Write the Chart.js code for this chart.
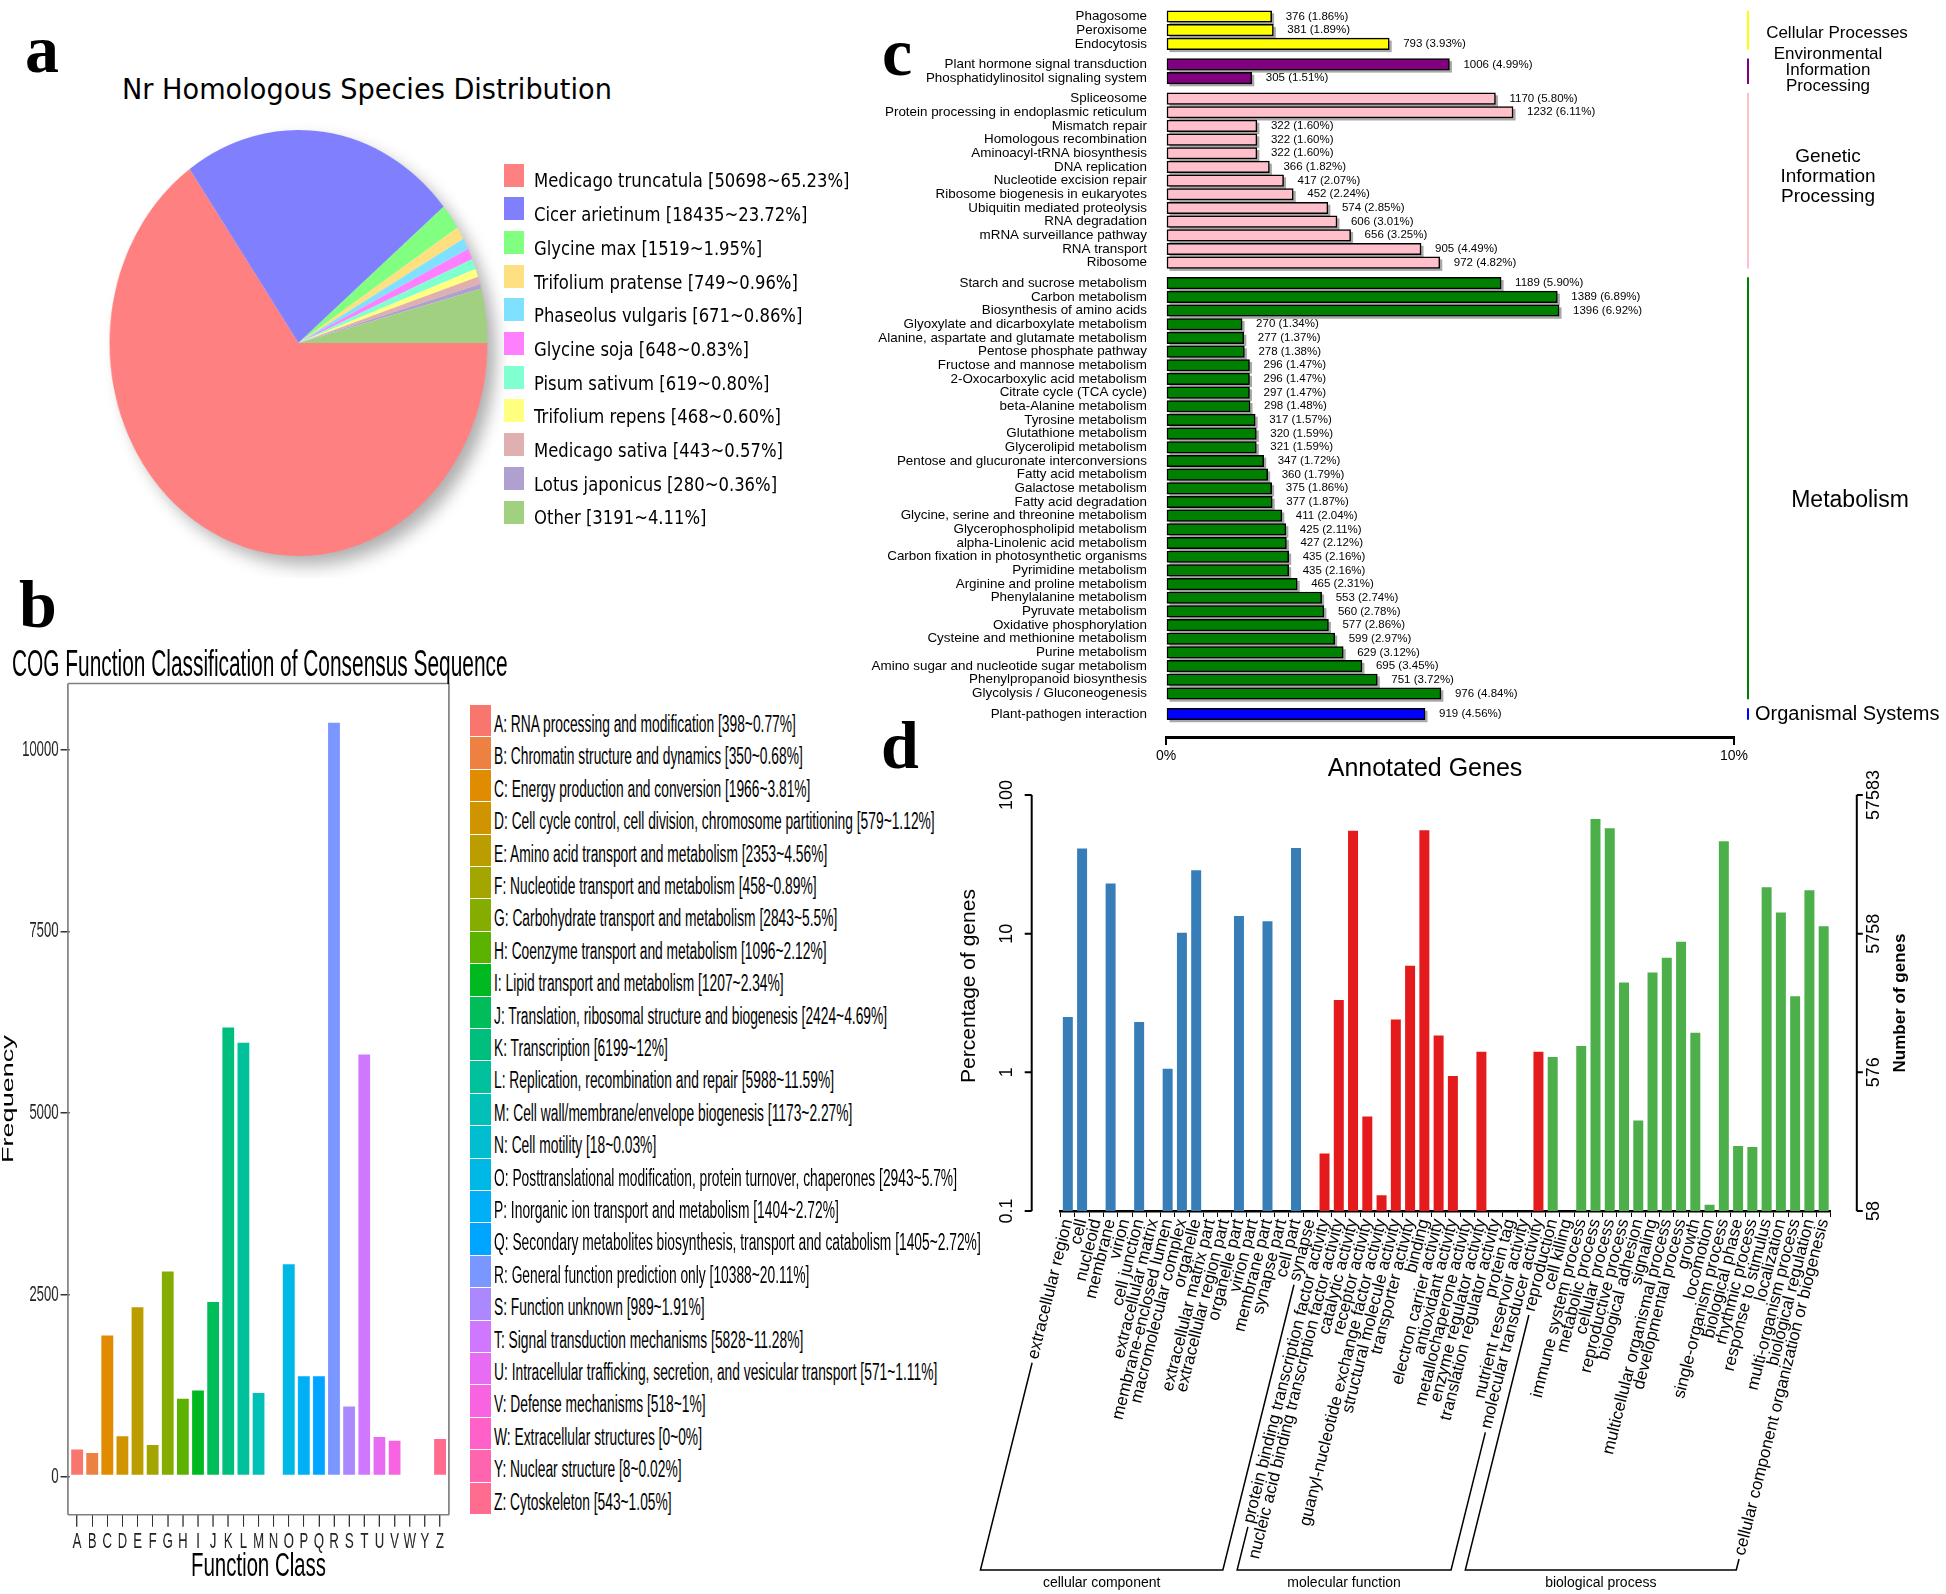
<!DOCTYPE html>
<html lang="en">
<head>
<meta charset="utf-8">
<title>Nr, COG, KEGG and GO annotation</title>
<script src="https://cdn.jsdelivr.net/npm/chart.js@4.4.1/dist/chart.umd.min.js"></script>
<style>
  html, body { margin: 0; padding: 0; background: #fff; }
  #page { position: relative; width: 1946px; height: 1594px; overflow: hidden; background: #fff; }
  #page canvas { position: absolute; }
  .t { position: absolute; white-space: nowrap; line-height: 0; color: #000; }
  .key { position: absolute; }
</style>
</head>
<body>
<div id="page">
  <canvas id="pieA"></canvas>
  <canvas id="cogB"></canvas>
  <canvas id="keggC"></canvas>
  <canvas id="goD"></canvas>
</div>
<script>
// ---------- panel a : Nr species
const speciesNames = ['Medicago truncatula', 'Cicer arietinum', 'Glycine max', 'Trifolium pratense', 'Phaseolus vulgaris',
  'Glycine soja', 'Pisum sativum', 'Trifolium repens', 'Medicago sativa', 'Lotus japonicus', 'Other'];
const speciesCounts = [50698, 18435, 1519, 749, 671, 648, 619, 468, 443, 280, 3191];
const speciesPct = ['65.23%', '23.72%', '1.95%', '0.96%', '0.86%', '0.83%', '0.80%', '0.60%', '0.57%', '0.36%', '4.11%'];
const speciesColors = ['#ff8080', '#8080ff', '#80ff80', '#ffe080', '#80e0ff', '#ff80ff', '#80ffd0', '#ffff80', '#e0b0b0', '#b0a0d0', '#a0d080'];

// ---------- panel b : COG
const cogLetters = ['A', 'B', 'C', 'D', 'E', 'F', 'G', 'H', 'I', 'J', 'K', 'L', 'M', 'N', 'O', 'P', 'Q', 'R', 'S', 'T', 'U', 'V', 'W', 'Y', 'Z'];
const cogNames = ['RNA processing and modification', 'Chromatin structure and dynamics', 'Energy production and conversion',
  'Cell cycle control, cell division, chromosome partitioning', 'Amino acid transport and metabolism',
  'Nucleotide transport and metabolism', 'Carbohydrate transport and metabolism', 'Coenzyme transport and metabolism',
  'Lipid transport and metabolism', 'Translation, ribosomal structure and biogenesis', 'Transcription',
  'Replication, recombination and repair', 'Cell wall/membrane/envelope biogenesis', 'Cell motility',
  'Posttranslational modification, protein turnover, chaperones', 'Inorganic ion transport and metabolism',
  'Secondary metabolites biosynthesis, transport and catabolism', 'General function prediction only', 'Function unknown',
  'Signal transduction mechanisms', 'Intracellular trafficking, secretion, and vesicular transport', 'Defense mechanisms',
  'Extracellular structures', 'Nuclear structure', 'Cytoskeleton'];
const cogCounts = [398, 350, 1966, 579, 2353, 458, 2843, 1096, 1207, 2424, 6199, 5988, 1173, 18, 2943, 1404, 1405, 10388, 989, 5828, 571, 518, 0, 8, 543];
const cogPct = ['0.77%', '0.68%', '3.81%', '1.12%', '4.56%', '0.89%', '5.5%', '2.12%', '2.34%', '4.69%', '12%', '11.59%', '2.27%',
  '0.03%', '5.7%', '2.72%', '2.72%', '20.11%', '1.91%', '11.28%', '1.11%', '1%', '0%', '0.02%', '1.05%'];
const cogTicks = [0, 2500, 5000, 7500, 10000];

// ---------- panel c : KEGG
const keggGroups = ['Cellular Processes', 'Environmental Information Processing', 'Genetic Information Processing', 'Metabolism', 'Organismal Systems'];
const keggGroupLines = [['Cellular Processes'], ['Environmental', 'Information', 'Processing'], ['Genetic', 'Information', 'Processing'], ['Metabolism'], ['Organismal Systems']];
const keggGroupSizes = [3, 2, 13, 31, 1];
const keggGroupColors = ['#ffff00', '#800080', '#ffc0cb', '#008000', '#0000ff'];
const keggPathways = ['Phagosome', 'Peroxisome', 'Endocytosis', 'Plant hormone signal transduction', 'Phosphatidylinositol signaling system',
  'Spliceosome', 'Protein processing in endoplasmic reticulum', 'Mismatch repair', 'Homologous recombination', 'Aminoacyl-tRNA biosynthesis',
  'DNA replication', 'Nucleotide excision repair', 'Ribosome biogenesis in eukaryotes', 'Ubiquitin mediated proteolysis', 'RNA degradation',
  'mRNA surveillance pathway', 'RNA transport', 'Ribosome', 'Starch and sucrose metabolism', 'Carbon metabolism', 'Biosynthesis of amino acids',
  'Glyoxylate and dicarboxylate metabolism', 'Alanine, aspartate and glutamate metabolism', 'Pentose phosphate pathway',
  'Fructose and mannose metabolism', '2-Oxocarboxylic acid metabolism', 'Citrate cycle (TCA cycle)', 'beta-Alanine metabolism',
  'Tyrosine metabolism', 'Glutathione metabolism', 'Glycerolipid metabolism', 'Pentose and glucuronate interconversions',
  'Fatty acid metabolism', 'Galactose metabolism', 'Fatty acid degradation', 'Glycine, serine and threonine metabolism',
  'Glycerophospholipid metabolism', 'alpha-Linolenic acid metabolism', 'Carbon fixation in photosynthetic organisms',
  'Pyrimidine metabolism', 'Arginine and proline metabolism', 'Phenylalanine metabolism', 'Pyruvate metabolism',
  'Oxidative phosphorylation', 'Cysteine and methionine metabolism', 'Purine metabolism', 'Amino sugar and nucleotide sugar metabolism',
  'Phenylpropanoid biosynthesis', 'Glycolysis / Gluconeogenesis', 'Plant-pathogen interaction'];
const keggCounts = [376, 381, 793, 1006, 305, 1170, 1232, 322, 322, 322, 366, 417, 452, 574, 606, 656, 905, 972,
  1189, 1389, 1396, 270, 277, 278, 296, 296, 297, 298, 317, 320, 321, 347, 360, 375, 377, 411, 425, 427, 435, 435,
  465, 553, 560, 577, 599, 629, 695, 751, 976, 919];
const keggPct = [1.86, 1.89, 3.93, 4.99, 1.51, 5.80, 6.11, 1.60, 1.60, 1.60, 1.82, 2.07, 2.24, 2.85, 3.01, 3.25, 4.49, 4.82,
  5.90, 6.89, 6.92, 1.34, 1.37, 1.38, 1.47, 1.47, 1.47, 1.48, 1.57, 1.59, 1.59, 1.72, 1.79, 1.86, 1.87, 2.04, 2.11, 2.12, 2.16, 2.16,
  2.31, 2.74, 2.78, 2.86, 2.97, 3.12, 3.45, 3.72, 4.84, 4.56];
const keggTicks = [0, 10];

// ---------- panel d : GO
const goGroups = ['cellular component', 'molecular function', 'biological process'];
const goGroupSizes = [18, 16, 20];
const goGroupColors = ['#377eb8', '#e41a1c', '#4daf4a'];
const goTerms = ['extracellular region', 'cell', 'nucleoid', 'membrane', 'virion', 'cell junction', 'extracellular matrix',
  'membrane-enclosed lumen', 'macromolecular complex', 'organelle', 'extracellular matrix part', 'extracellular region part',
  'organelle part', 'virion part', 'membrane part', 'synapse part', 'cell part', 'synapse',
  'protein binding transcription factor activity', 'nucleic acid binding transcription factor activity', 'catalytic activity',
  'receptor activity', 'guanyl-nucleotide exchange factor activity', 'structural molecule activity', 'transporter activity', 'binding',
  'electron carrier activity', 'antioxidant activity', 'metallochaperone activity', 'enzyme regulator activity',
  'translation regulator activity', 'protein tag', 'nutrient reservoir activity', 'molecular transducer activity',
  'reproduction', 'cell killing', 'immune system process', 'metabolic process', 'cellular process', 'reproductive process',
  'biological adhesion', 'signaling', 'multicellular organismal process', 'developmental process', 'growth', 'locomotion',
  'single-organism process', 'biological phase', 'rhythmic process', 'response to stimulus', 'localization',
  'multi-organism process', 'biological regulation', 'cellular component organization or biogenesis'];
const goPercent = [2.51, 41.2, null, 23.0, null, 2.31, null, 1.06, 10.15, 28.7, null, null, 13.4, null, 12.3, null, 41.5, null,
  0.26, 3.32, 55.3, 0.48, 0.13, 2.40, 5.87, 55.6, 1.84, 0.94, null, 1.41, null, null, null, 1.41,
  1.29, null, 1.55, 67.1, 57.5, 4.44, 0.45, 5.25, 6.70, 8.74, 1.93, 0.111, 46.3, 0.294, 0.29, 21.6, 14.2, 3.54, 20.6, 11.3];
const goTickValues = [0.1, 1, 10, 100];
const goLeftLabels = ['0.1', '1', '10', '100'];
const goRightLabels = ['58', '576', '5758', '57583'];

// ---------- helpers
const FONT_SANS = '"Liberation Sans", Arial, Helvetica, sans-serif';
const FONT_HUMAN = '"DejaVu Sans", Verdana, sans-serif';
const FONT_SERIF = '"Liberation Serif", "Times New Roman", serif';
Chart.defaults.font.family = FONT_SANS;
Chart.defaults.color = '#000';

const page = document.getElementById('page');

// text placed by its baseline (line-height 0 puts the baseline ~0.345em below the box top)
function addText(str, x, baseline, size, opts = {}) {
  const el = document.createElement('div');
  el.className = 't';
  el.textContent = str;
  el.style.fontFamily = opts.family || FONT_SANS;
  el.style.fontSize = size + 'px';
  if (opts.bold) el.style.fontWeight = 'bold';
  el.style.left = x + 'px';
  el.style.top = (baseline - 0.345 * size) + 'px';
  const sx = opts.scaleX || 1;
  if (opts.center) {
    el.style.transformOrigin = 'center center';
    el.style.transform = `translateX(-50%) scaleX(${sx})`;
  } else if (sx !== 1) {
    el.style.transformOrigin = 'left center';
    el.style.transform = `scaleX(${sx})`;
  }
  page.appendChild(el);
}

function addKey(x, y, w, h, color) {
  const el = document.createElement('div');
  el.className = 'key';
  el.style.left = x + 'px';
  el.style.top = y + 'px';
  el.style.width = w + 'px';
  el.style.height = h + 'px';
  el.style.background = color;
  page.appendChild(el);
}

function setupCanvas(id, left, top, w, h, sx) {
  const c = document.getElementById(id);
  c.width = w;
  c.height = h;
  c.style.width = w + 'px';
  c.style.height = h + 'px';
  c.style.left = left + 'px';
  c.style.top = top + 'px';
  if (sx) {
    c.style.transformOrigin = '0 0';
    c.style.transform = `scaleX(${sx})`;
  }
  return c;
}

// ggplot2 default hue palette (hcl, l = 65, c = 100)
function hclHex(h, c, l) {
  const rad = h * Math.PI / 180;
  const U = c * Math.cos(rad), V = c * Math.sin(rad);
  const Y = 100 * (l > 7.999592 ? Math.pow((l + 16) / 116, 3) : l / 903.3);
  const den = 95.047 + 15 * 100 + 3 * 108.883;
  const u = U / (13 * l) + 4 * 95.047 / den;
  const v = V / (13 * l) + 9 * 100 / den;
  const X = 9 * Y * u / (4 * v);
  const Z = -X / 3 - 5 * Y + 3 * Y / v;
  const gam = (t) => (t > 0.00304 ? 1.055 * Math.pow(t, 1 / 2.4) - 0.055 : 12.92 * t);
  const rgb = [
    3.240479 * X - 1.53715 * Y - 0.498535 * Z,
    -0.969256 * X + 1.875992 * Y + 0.041556 * Z,
    0.055648 * X - 0.204043 * Y + 1.057311 * Z
  ].map((t) => Math.round(255 * Math.min(1, Math.max(0, gam(t / 100)))));
  return '#' + rgb.map((n) => n.toString(16).padStart(2, '0')).join('');
}
const cogColors = cogLetters.map((_, i) => hclHex(15 + 360 * i / cogLetters.length, 100, 65));

function drawRotated(ctx, text, x, y) {
  ctx.save();
  ctx.translate(x, y);
  ctx.rotate(-Math.PI / 2);
  ctx.fillText(text, 0, 0);
  ctx.restore();
}

// ---------- static texts
addText('a', 25, 72, 68, { family: FONT_SERIF, bold: true });
addText('b', 19, 627, 68, { family: FONT_SERIF, bold: true });
addText('c', 882, 75, 68, { family: FONT_SERIF, bold: true });
addText('d', 881, 768, 68, { family: FONT_SERIF, bold: true });

addText('Nr Homologous Species Distribution', 122, 100, 28, { family: FONT_HUMAN, scaleX: 0.97 });
speciesNames.forEach((name, i) => {
  addKey(504, 163.5 + i * 33.7, 20, 23, speciesColors[i]);
  addText(`${name} [${speciesCounts[i]}~${speciesPct[i]}]`, 534, 187 + i * 33.7, 19, { family: FONT_HUMAN, scaleX: 0.865 });
});

addText('COG Function Classification of Consensus Sequence', 12, 676, 36, { scaleX: 0.58 });
cogLetters.forEach((letter, i) => {
  addKey(470, 705 + i * 32.4, 21, 31.4, cogColors[i]);
  addText(`${letter}: ${cogNames[i]} [${cogCounts[i]}~${cogPct[i]}]`, 494, 732 + i * 32.4, 23, { scaleX: 0.6 });
});

addText('Annotated Genes', 1425, 776, 25, { center: true });

// ---------- panel a : pie (stretched to the ellipse of the original)
const pieShadow = {
  id: 'pieShadow',
  beforeDatasetsDraw(chart) {
    const arc = chart.getDatasetMeta(0).data[0];
    if (!arc) return;
    const { ctx } = chart;
    ctx.save();
    ctx.shadowColor = 'rgba(0, 0, 0, 0.32)';
    ctx.shadowBlur = 18;
    ctx.shadowOffsetX = 10;
    ctx.shadowOffsetY = 10;
    ctx.beginPath();
    ctx.arc(arc.x, arc.y, arc.outerRadius - 1, 0, Math.PI * 2);
    ctx.fillStyle = '#ffffff';
    ctx.fill();
    ctx.restore();
  }
};
new Chart(setupCanvas('pieA', 298 - 235 * 0.887, 108, 470, 470, 0.887), {
  type: 'pie',
  data: {
    labels: speciesNames,
    datasets: [{ data: speciesCounts, backgroundColor: speciesColors, borderWidth: 0, hoverOffset: 0, rotation: 90 }]
  },
  options: {
    responsive: false,
    animation: false,
    events: [],
    rotation: 90,
    layout: { padding: 22 },
    plugins: { legend: { display: false }, tooltip: { enabled: false } }
  },
  plugins: [pieShadow]
});

// ---------- panel b : COG bars (drawn wide, squeezed like the original)
const bFrameL = 113.3, bFrameR = 748.3;
const bExt = 0.1 * (bFrameR - bFrameL) / (cogLetters.length + 0.2);
const cogMax = Math.max(...cogCounts);
const cogFrame = {
  id: 'cogFrame',
  afterDraw(chart) {
    const { ctx, chartArea: a } = chart;
    const l = a.left - bExt, r = a.right + bExt;
    ctx.save();
    ctx.strokeStyle = '#7f7f7f';
    ctx.lineWidth = 1.6;
    ctx.beginPath();
    ctx.moveTo(l, a.top); ctx.lineTo(r, a.top);
    ctx.moveTo(l, a.bottom); ctx.lineTo(r, a.bottom);
    ctx.stroke();
    ctx.lineWidth = 2.6;
    ctx.beginPath();
    ctx.moveTo(l, a.top); ctx.lineTo(l, a.bottom);
    ctx.moveTo(r, a.top); ctx.lineTo(r, a.bottom);
    ctx.stroke();
    ctx.restore();
  }
};
new Chart(setupCanvas('cogB', 0, 640, 775, 954, 0.6), {
  type: 'bar',
  data: {
    labels: cogLetters,
    datasets: [{
      data: cogCounts,
      backgroundColor: cogColors,
      borderColor: 'rgba(255, 255, 255, 0.7)',
      borderWidth: 1.5,
      borderSkipped: false,
      barPercentage: 0.9,
      categoryPercentage: 1
    }]
  },
  options: {
    responsive: false,
    animation: false,
    events: [],
    layout: { padding: { left: 0, right: 775 - (bFrameR - bExt), top: 43.5, bottom: 0 } },
    plugins: { legend: { display: false }, tooltip: { enabled: false } },
    scales: {
      x: {
        offset: true,
        grid: { offset: false, drawOnChartArea: false, drawTicks: true, tickLength: 12, color: '#333', lineWidth: 2 },
        border: { display: false },
        ticks: { font: { size: 22 }, color: '#222', padding: 2, autoSkip: false, maxRotation: 0 },
        title: { display: true, text: 'Function Class', color: '#000', font: { size: 34, lineHeight: 1.2 }, padding: { top: 0, bottom: 7 } },
        afterFit: (s) => { s.height = 79.3; s.paddingLeft = 0; s.paddingRight = 0; }
      },
      y: {
        min: -0.05 * cogMax,
        max: 1.05 * cogMax,
        afterBuildTicks: (s) => { s.ticks = cogTicks.map((v) => ({ value: v })); },
        grid: { drawOnChartArea: false, drawTicks: true, tickLength: 15, color: '#333', lineWidth: 1.5 },
        border: { display: false },
        ticks: { font: { size: 22 }, color: '#222', padding: 3, callback: (v) => String(v) },
        title: { display: true, text: 'Frequency', color: '#000', font: { size: 27, lineHeight: 1.1 }, padding: 0 },
        afterFit: (s) => { s.width = bFrameL + bExt; s.paddingTop = 0; s.paddingBottom = 0; }
      }
    }
  },
  plugins: [cogFrame]
});

// ---------- panel c : KEGG horizontal bars
const keggPos = [];
const keggColors = [];
keggGroupSizes.forEach((n, g) => {
  for (let k = 0; k < n; k++) {
    keggPos.push(keggPos.length + 0.5 * g);
    keggColors.push(keggGroupColors[g]);
  }
});
// layout of panel c: centre of the first row and row pitch, in canvas pixels
const cRow0 = 9.3, cPitch = 13.955;
// label block of each group, relative to the right edge of the plot
const keggLabelStyle = [
  { size: 17, cx: 103, dy: 3, lh: 17 },
  { size: 17, cx: 94, dy: -1, lh: 16 },
  { size: 19, cx: 94, dy: -4, lh: 20 },
  { size: 23, cx: 116, dy: 12, lh: 23 },
  { size: 20, left: 21, dy: 1, lh: 20 }
];
const keggDecor = {
  id: 'keggDecor',
  beforeDatasetsDraw(chart) {
    const { ctx } = chart;
    ctx.save();
    ctx.fillStyle = '#a8a8a8';
    chart.getDatasetMeta(0).data.forEach((b) => {
      ctx.fillRect(b.base + 2.5, b.y - b.height / 2 + 2.5, b.x - b.base, b.height);
    });
    ctx.restore();
  },
  afterDatasetsDraw(chart) {
    const { ctx } = chart;
    ctx.save();
    ctx.font = '11.5px ' + FONT_SANS;
    ctx.fillStyle = '#000';
    ctx.textAlign = 'left';
    ctx.textBaseline = 'middle';
    chart.getDatasetMeta(0).data.forEach((b, i) => {
      ctx.fillText(`${keggCounts[i]} (${keggPct[i].toFixed(2)}%)`, b.x + 14, b.y);
    });
    ctx.restore();
  },
  afterDraw(chart) {
    const { ctx, chartArea: a } = chart;
    const ys = chart.scales.y;
    let start = 0;
    ctx.save();
    keggGroupSizes.forEach((n, g) => {
      const y0 = ys.getPixelForValue(keggPos[start] - 0.5);
      const y1 = ys.getPixelForValue(keggPos[start + n - 1] + 0.5);
      ctx.strokeStyle = keggGroupColors[g];
      ctx.lineWidth = 2;
      ctx.beginPath();
      ctx.moveTo(a.right + 14, y0 + 1);
      ctx.lineTo(a.right + 14, y1 - 1);
      ctx.stroke();
      const st = keggLabelStyle[g];
      const lines = keggGroupLines[g];
      ctx.font = st.size + 'px ' + FONT_SANS;
      ctx.fillStyle = '#000';
      ctx.textBaseline = 'middle';
      ctx.textAlign = st.left !== undefined ? 'left' : 'center';
      const x = st.left !== undefined ? a.right + st.left : a.right + st.cx;
      const mid = (y0 + y1) / 2 + st.dy;
      lines.forEach((line, k) => {
        ctx.fillText(line, x, mid + (k - (lines.length - 1) / 2) * st.lh);
      });
      start += n;
    });
    ctx.restore();
  }
};
const keggChart = new Chart(setupCanvas('keggC', 860, 0, 1086, 770), {
  type: 'bar',
  data: {
    datasets: [{
      data: keggPct.map((p, i) => ({ x: p, y: keggPos[i] })),
      backgroundColor: keggColors,
      borderColor: '#000',
      borderWidth: 1.5,
      borderSkipped: false,
      barThickness: 11.5
    }]
  },
  options: {
    indexAxis: 'y',
    responsive: false,
    animation: false,
    events: [],
    layout: { padding: { left: 0, right: 212, top: 2.3, bottom: 0 } },
    plugins: { legend: { display: false }, tooltip: { enabled: false } },
    scales: {
      y: {
        type: 'linear',
        reverse: true,
        min: -0.5,
        max: 52.15,
        afterBuildTicks: (s) => { s.ticks = keggPos.map((v) => ({ value: v })); },
        grid: { display: false },
        border: { display: false },
        ticks: { autoSkip: false, font: { size: 13.4 }, color: '#000', padding: 11, callback: (v, i) => keggPathways[i] },
        afterFit: (s) => { s.width = 306; s.paddingTop = 0; s.paddingBottom = 0; }
      },
      x: {
        type: 'linear',
        min: 0,
        max: 10,
        afterBuildTicks: (s) => { s.ticks = keggTicks.map((v) => ({ value: v })); },
        grid: { drawOnChartArea: false, drawTicks: true, tickLength: 8, color: '#000', lineWidth: 2 },
        border: { display: true, color: '#000', width: 3 },
        ticks: { font: { size: 14 }, color: '#000', padding: 3, callback: (v) => v + '%' },
        afterFit: (s) => { s.height = 33; s.paddingLeft = 0; s.paddingRight = 0; }
      }
    }
  },
  plugins: [keggDecor]
});
// fit the row axis to the laid-out plot so rows sit at the original pitch
{
  const ca = keggChart.chartArea;
  keggChart.options.scales.y.min = (ca.top - cRow0) / cPitch;
  keggChart.options.scales.y.max = (ca.bottom - cRow0) / cPitch;
  keggChart.update();
}

// ---------- panel d : GO bars on a log axis
const goBarColors = [];
goGroupSizes.forEach((n, g) => { for (let k = 0; k < n; k++) goBarColors.push(goGroupColors[g]); });
const goDecor = {
  id: 'goDecor',
  afterDraw(chart) {
    const { ctx, chartArea: a } = chart;
    const ys = chart.scales.y;
    const xs = chart.scales.x;
    const lx = a.left - 29, rx = a.right + 26;
    const yTop = ys.getPixelForValue(goTickValues[goTickValues.length - 1]);
    const yBot = ys.getPixelForValue(goTickValues[0]);
    ctx.save();
    ctx.strokeStyle = '#000';
    ctx.fillStyle = '#000';
    ctx.lineWidth = 2;
    ctx.beginPath();
    ctx.moveTo(lx, yTop); ctx.lineTo(lx, yBot);
    ctx.moveTo(rx, yTop); ctx.lineTo(rx, yBot);
    goTickValues.forEach((v) => {
      const p = ys.getPixelForValue(v);
      ctx.moveTo(lx - 7, p); ctx.lineTo(lx, p);
      ctx.moveTo(rx, p); ctx.lineTo(rx + 6, p);
    });
    ctx.stroke();
    ctx.textAlign = 'center';
    ctx.textBaseline = 'middle';
    ctx.font = '18px ' + FONT_SANS;
    goTickValues.forEach((v, i) => {
      const p = ys.getPixelForValue(v);
      drawRotated(ctx, goLeftLabels[i], lx - 25, p);
      drawRotated(ctx, goRightLabels[i], rx + 17, p);
    });
    ctx.font = '21px ' + FONT_SANS;
    drawRotated(ctx, 'Percentage of genes', a.left - 91, a.top + 191);
    ctx.font = 'bold 17px ' + FONT_SANS;
    drawRotated(ctx, 'Number of genes', a.right + 70, (a.top + a.bottom) / 2);

    // brackets under the rotated term labels
    const items = xs.getLabelItems();
    const bY = a.bottom + 359;
    let start = 0;
    goGroupSizes.forEach((n, g) => {
      const ends = [start, start + n - 1].map((i) => {
        const it = items[i];
        const [tx, ty] = it.options.translation;
        const r = it.options.rotation;
        ctx.font = it.font.string;
        const w = ctx.measureText(it.label).width;
        const cos = Math.cos(r), sin = Math.sin(r);
        const px = tx - w * cos - it.textOffset * sin;
        const py = ty - w * sin + it.textOffset * cos;
        const dx = -cos, dy = -sin;
        const x0 = px + 4 * dx, y0 = py + 4 * dy;
        const t = (bY - y0) / dy;
        return { x0, y0, x1: x0 + t * dx };
      });
      ctx.lineWidth = 1.5;
      ctx.beginPath();
      ctx.moveTo(ends[0].x0, ends[0].y0);
      ctx.lineTo(ends[0].x1, bY);
      ctx.lineTo(ends[1].x1, bY);
      ctx.lineTo(ends[1].x0, ends[1].y0);
      ctx.stroke();
      ctx.font = '14px ' + FONT_SANS;
      ctx.textAlign = 'center';
      ctx.textBaseline = 'middle';
      ctx.fillText(goGroups[g], (ends[0].x1 + ends[1].x1) / 2, bY + 13);
      start += n;
    });
    ctx.restore();
  }
};
new Chart(setupCanvas('goD', 940, 770, 1006, 824), {
  type: 'bar',
  data: {
    labels: goTerms,
    datasets: [{ data: goPercent, backgroundColor: goBarColors, barPercentage: 0.7, categoryPercentage: 1 }]
  },
  options: {
    responsive: false,
    animation: false,
    events: [],
    layout: { padding: { left: 120.7, right: 115.2, top: 25, bottom: 0 } },
    plugins: { legend: { display: false }, tooltip: { enabled: false } },
    scales: {
      x: {
        grid: { drawOnChartArea: false, drawTicks: true, tickLength: 6, color: '#000', lineWidth: 1 },
        border: { display: true, color: '#000', width: 2.5 },
        ticks: { autoSkip: false, minRotation: 76, maxRotation: 76, font: { size: 17 }, color: '#000', padding: 0 },
        afterFit: (s) => { s.height = 383; s.paddingLeft = 0; s.paddingRight = 0; }
      },
      y: { type: 'logarithmic', min: 0.1, max: 100, display: false }
    }
  },
  plugins: [goDecor]
});
</script>
</body>
</html>
